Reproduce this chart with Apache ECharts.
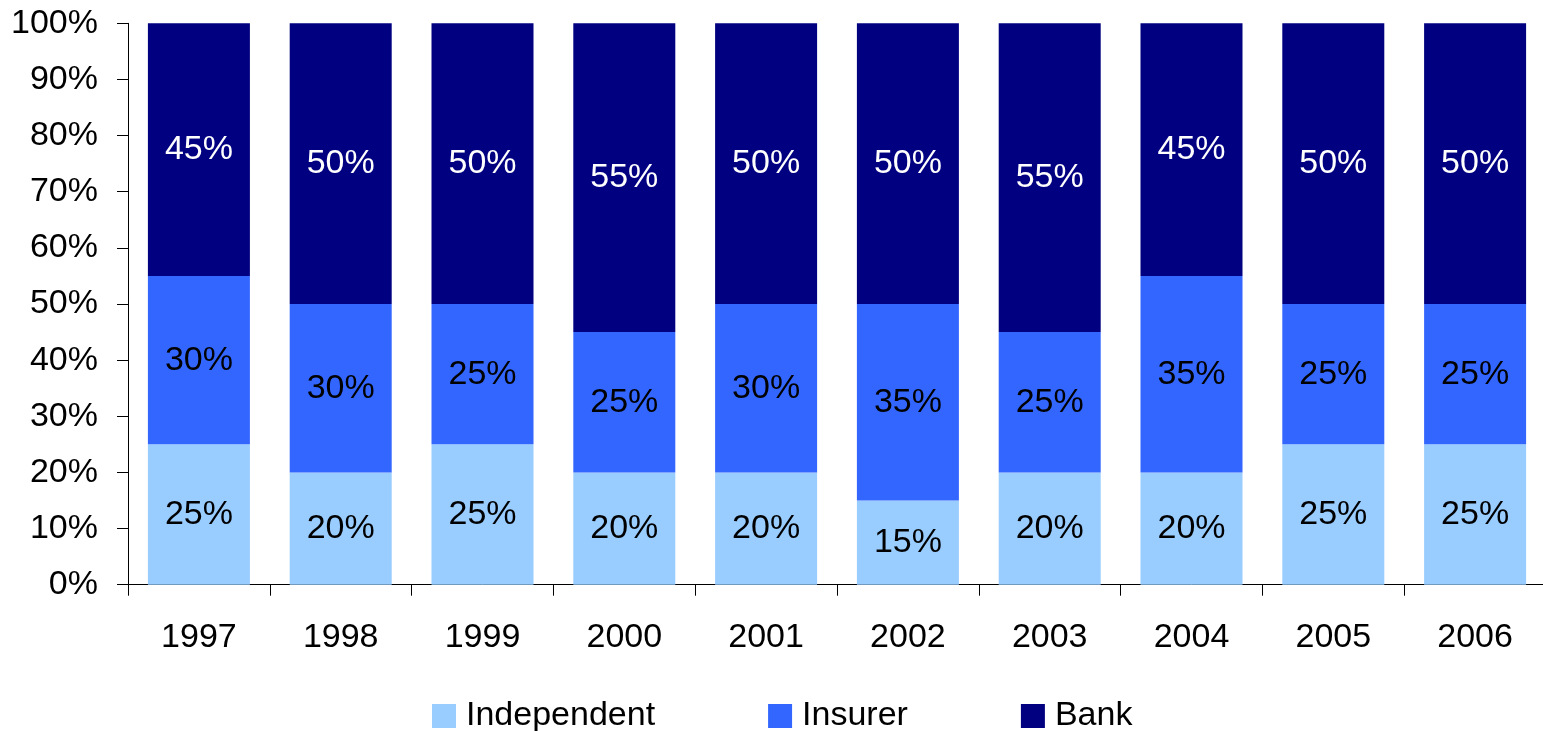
<!DOCTYPE html>
<html>
<head>
<meta charset="utf-8">
<script src="https://cdn.jsdelivr.net/npm/echarts@6/dist/echarts.min.js"></script>
<style>
html,body{margin:0;padding:0;background:#fff;overflow:hidden;}
#chart{width:1546px;height:731px;}
</style>
</head>
<body>
<div id="chart"></div>
<script>
var years = ['1997','1998','1999','2000','2001','2002','2003','2004','2005','2006'];
var independent = [25,20,25,20,20,15,20,20,25,25];
var insurer = [30,30,25,25,30,35,25,35,25,25];
var bank = [45,50,50,55,50,50,55,45,50,50];

var FONT = '"Liberation Sans", Arial, sans-serif';
var chart = echarts.init(document.getElementById('chart'));

function series(name, data, color, labelColor) {
  return {
    name: name,
    type: 'bar',
    stack: 'total',
    data: data,
    barWidth: 102,
    itemStyle: { color: color },
    label: {
      show: true,
      position: 'inside',
      formatter: '{c}%',
      color: labelColor,
      fontSize: 34,
      fontFamily: FONT
    },
    emphasis: { disabled: true }
  };
}

chart.setOption({
  animation: false,
  backgroundColor: '#ffffff',
  grid: { left: 128, top: 23.3, right: 0, bottom: 146.3, containLabel: false },
  legend: {
    left: 427,
    top: 694,
    itemWidth: 24,
    itemHeight: 24,
    itemGap: 113,
    icon: 'rect',
    textStyle: { fontSize: 34, fontFamily: FONT, color: '#000', padding: [0, 0, 0, 5] },
    data: ['Independent', 'Insurer', 'Bank']
  },
  xAxis: {
    type: 'category',
    data: years,
    axisLine: { show: true, lineStyle: { color: '#000', width: 1 } },
    axisTick: { show: true, length: 11, alignWithLabel: false, lineStyle: { color: '#000' } },
    axisLabel: { fontSize: 34, fontFamily: FONT, color: '#000', margin: 36 },
    splitLine: { show: false }
  },
  yAxis: {
    type: 'value',
    min: 0,
    max: 100,
    interval: 10,
    axisLine: { show: true, lineStyle: { color: '#000', width: 1 } },
    axisTick: { show: true, length: 11, lineStyle: { color: '#000' } },
    axisLabel: { fontSize: 34, fontFamily: FONT, color: '#000', margin: 30, formatter: '{value}%' },
    splitLine: { show: false }
  },
  series: [
    series('Independent', independent, '#99CCFF', '#000'),
    series('Insurer', insurer, '#3366FF', '#000'),
    series('Bank', bank, '#000080', '#fff')
  ]
});
</script>
</body>
</html>
